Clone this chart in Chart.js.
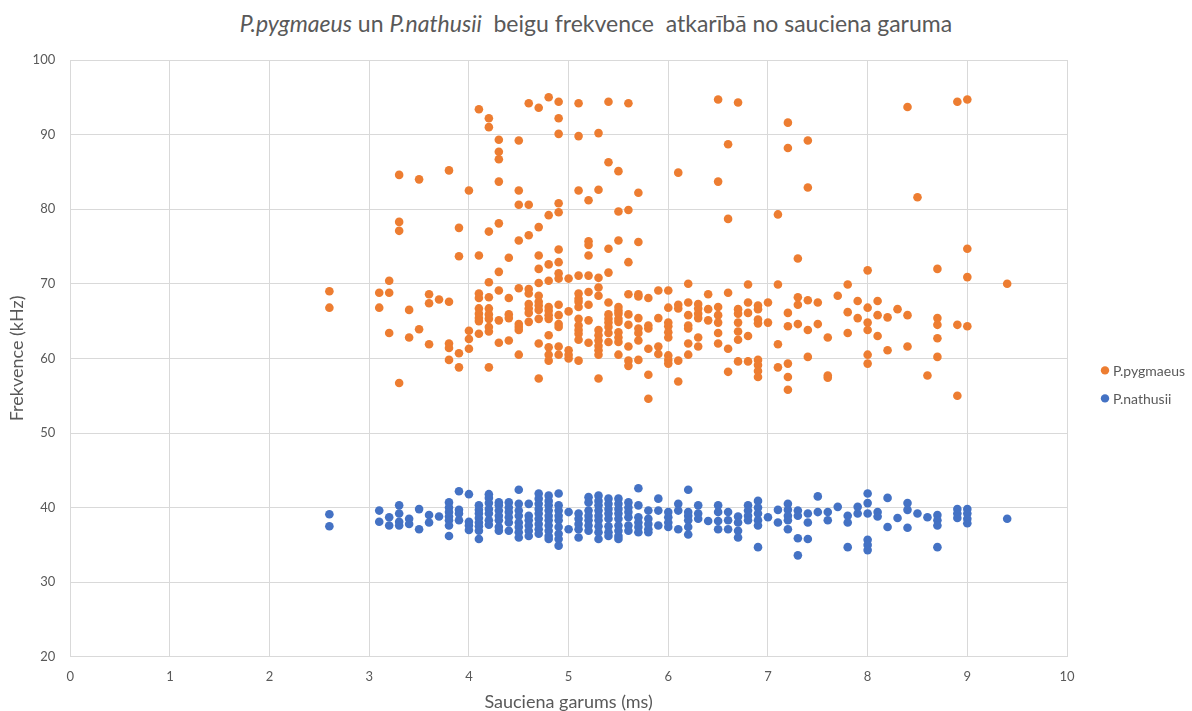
<!DOCTYPE html>
<html>
<head>
<meta charset="utf-8">
<script src="https://cdn.jsdelivr.net/npm/chart.js@4"></script>
<style>
  html, body { margin: 0; padding: 0; background: #fff; }
  #wrap { position: relative; width: 1192px; height: 711px; }
  #title {
    position: absolute; top: 9px; left: 0; width: 1192px;
    text-align: center; font-family: Lato, sans-serif; font-size: 23px;
    color: #595959; white-space: pre;
  }
  canvas { position: absolute; left: 0; top: 0; }
</style>
</head>
<body>
<div id="wrap">
  <div id="title"><i>P.pygmaeus</i> un <i>P.nathusii</i>  beigu frekvence  atkarībā no sauciena garuma</div>
  <canvas id="chart" width="1192" height="711"></canvas>
</div>
<script>
// sauciena garums (ms) -> beigu frekvences (kHz)
const pygmaeusCalls = [
    [2.6, [69.0, 66.8]],
    [3.1, [68.8, 66.8]],
    [3.2, [70.4, 68.8, 63.4]],
    [3.3, [84.6, 78.3, 77.1, 56.7]],
    [3.4, [66.5, 62.8]],
    [3.5, [84.0, 63.9]],
    [3.6, [68.6, 67.4, 61.9]],
    [3.7, [67.9]],
    [3.8, [85.2, 67.6, 62.0, 61.4, 59.8]],
    [3.9, [77.5, 73.7, 60.7, 58.8]],
    [4.0, [82.5, 63.7, 62.6, 61.3]],
    [4.1, [93.4, 73.8, 68.7, 68.1, 66.7, 66.0, 65.4, 65.0, 63.3]],
    [4.2, [92.2, 91.0, 77.0, 70.2, 68.2, 66.7, 65.9, 65.3, 64.2, 63.6, 58.8]],
    [4.3, [89.3, 87.7, 86.7, 83.7, 78.1, 71.6, 69.1, 65.1, 62.1]],
    [4.4, [73.5, 68.1, 65.9, 65.4, 62.4]],
    [4.5, [89.2, 82.5, 80.6, 75.8, 69.4, 64.6, 64.2, 63.8, 60.5]],
    [4.6, [94.2, 80.6, 76.5, 69.3, 68.7, 67.3, 66.7, 66.1, 64.9]],
    [4.7, [93.6, 77.6, 73.8, 72.0, 70.1, 68.4, 67.6, 67.1, 66.5, 65.3, 62.0, 57.3]],
    [4.8, [95.0, 79.2, 72.6, 70.4, 66.9, 66.4, 65.8, 65.3, 63.1, 61.5, 60.5, 59.7]],
    [4.9, [94.4, 92.2, 90.1, 80.8, 79.6, 74.6, 72.9, 71.4, 70.7, 67.2, 65.8, 64.6, 64.2, 61.6, 60.5]],
    [5.0, [70.7, 66.3, 61.1, 60.5, 60.0]],
    [5.1, [94.2, 89.8, 82.5, 71.1, 68.7, 68.0, 67.6, 66.9, 65.3, 64.4, 63.8, 63.3, 62.5, 59.7]],
    [5.2, [81.2, 75.7, 75.2, 73.8, 71.1, 68.9, 67.2, 65.1, 62.1]],
    [5.3, [90.2, 82.6, 70.8, 69.5, 68.4, 63.8, 63.1, 62.4, 61.7, 61.1, 60.5, 57.3]],
    [5.4, [94.4, 86.3, 74.7, 71.5, 67.5, 65.9, 65.3, 64.8, 64.2, 63.4, 62.2]],
    [5.5, [85.1, 79.7, 75.8, 66.9, 66.4, 66.0, 65.3, 64.9, 63.5, 62.8, 62.2, 60.5]],
    [5.6, [94.2, 79.9, 72.9, 68.6, 65.9, 64.5, 61.6, 59.7, 59.0]],
    [5.7, [82.2, 75.6, 68.6, 68.3, 65.4, 64.0, 63.4, 62.4, 59.8]],
    [5.8, [68.1, 64.4, 64.0, 61.3, 57.8, 54.6]],
    [5.9, [69.1, 65.4, 61.6, 60.6]],
    [6.0, [69.1, 66.8, 64.8, 64.3, 63.5, 62.8, 60.4, 59.8, 59.3]],
    [6.1, [84.9, 67.2, 66.7, 59.7, 56.9]],
    [6.2, [70.0, 67.5, 65.8, 64.4, 64.0, 62.0, 60.5]],
    [6.3, [67.3, 66.7, 66.0, 65.4, 62.8, 61.6]],
    [6.4, [68.6, 66.6, 65.1]],
    [6.5, [94.7, 83.7, 66.9, 65.8, 64.8, 63.4, 62.0]],
    [6.6, [88.7, 78.7, 68.8, 61.3, 58.2]],
    [6.7, [94.3, 66.6, 66.0, 64.8, 63.6, 62.5, 59.6]],
    [6.8, [69.9, 67.5, 66.1, 63.0, 59.6]],
    [6.9, [67.1, 66.6, 65.2, 64.7, 59.8, 59.1, 58.3, 57.5]],
    [7.0, [67.5, 64.8]],
    [7.1, [79.3, 69.9, 61.9, 58.8]],
    [7.2, [91.6, 88.2, 66.1, 64.3, 59.3, 57.5, 55.8]],
    [7.3, [73.4, 68.2, 67.2, 64.6]],
    [7.4, [89.2, 82.9, 67.8, 63.8, 60.2]],
    [7.5, [67.5, 64.6]],
    [7.6, [62.8, 57.7, 57.4]],
    [7.7, [68.4]],
    [7.8, [69.9, 66.2, 63.4]],
    [7.9, [67.7, 65.4]],
    [8.0, [71.8, 66.8, 64.8, 63.8, 60.5, 59.3]],
    [8.1, [67.7, 65.8, 63.0]],
    [8.2, [65.5, 61.1]],
    [8.3, [66.6]],
    [8.4, [93.7, 65.8, 61.6]],
    [8.5, [81.6]],
    [8.6, [57.7]],
    [8.7, [72.0, 65.4, 64.5, 62.7, 60.2]],
    [8.9, [94.4, 64.5, 55.0]],
    [9.0, [94.7, 74.7, 70.9, 64.3]],
    [9.4, [70.0]]
];

const nathusiiCalls = [
    [2.6, [39.1, 37.5]],
    [3.1, [39.6, 38.1]],
    [3.2, [38.7, 37.6]],
    [3.3, [40.3, 39.2, 38.1, 37.6]],
    [3.4, [38.5, 37.8]],
    [3.5, [39.8, 37.1]],
    [3.6, [39.0, 38.0]],
    [3.7, [38.8]],
    [3.8, [40.7, 40.0, 39.4, 38.8, 38.3, 37.6, 36.2]],
    [3.9, [42.2, 39.7, 39.2, 38.3]],
    [4.0, [41.8, 38.1, 37.6, 37.0]],
    [4.1, [40.3, 39.7, 39.2, 38.6, 38.0, 37.5, 36.9, 35.8]],
    [4.2, [41.8, 41.3, 40.6, 39.8, 39.2, 38.3, 37.7]],
    [4.3, [40.7, 40.3, 39.6, 38.9, 38.3, 37.4, 36.9]],
    [4.4, [40.7, 40.0, 39.4, 38.7, 38.0, 36.9]],
    [4.5, [42.4, 40.5, 39.6, 38.9, 38.0, 37.4, 36.7, 36.0]],
    [4.6, [40.5, 38.9, 38.3, 37.6, 36.9, 36.2]],
    [4.7, [41.9, 41.2, 40.5, 39.8, 39.2, 38.5, 37.8, 37.1, 36.5]],
    [4.8, [41.6, 40.9, 40.3, 39.6, 38.9, 38.3, 37.6, 36.9, 36.2, 35.8]],
    [4.9, [41.9, 40.3, 39.6, 38.9, 38.3, 37.4, 36.5, 35.8, 34.9]],
    [5.0, [39.4, 37.1]],
    [5.1, [39.2, 38.5, 37.8, 37.1, 36.0]],
    [5.2, [41.4, 40.7, 39.6, 38.9, 38.3, 37.6, 36.9]],
    [5.3, [41.6, 40.9, 40.3, 39.6, 38.9, 38.3, 37.5, 36.7, 35.8]],
    [5.4, [41.2, 40.5, 39.8, 39.2, 38.5, 37.5, 36.7, 36.2]],
    [5.5, [41.2, 40.5, 39.8, 39.2, 38.5, 37.6, 36.9, 36.2, 35.8]],
    [5.6, [40.7, 40.0, 39.4, 38.7, 37.6, 36.9]],
    [5.7, [42.6, 40.3, 38.7, 38.0, 37.4, 36.7]],
    [5.8, [39.6, 38.5, 37.8, 37.1, 36.7]],
    [5.9, [41.2, 39.6, 37.6]],
    [6.0, [39.4, 38.7, 38.0, 37.4]],
    [6.1, [40.5, 39.6, 37.1]],
    [6.2, [42.4, 39.4, 38.9, 38.3, 37.4, 36.4]],
    [6.3, [40.3, 39.2, 38.5]],
    [6.4, [38.2]],
    [6.5, [40.3, 39.4, 38.2, 37.1]],
    [6.6, [39.4, 38.3, 37.1]],
    [6.7, [38.8, 38.0, 36.9, 36.0]],
    [6.8, [40.3, 39.6, 38.9, 38.3]],
    [6.9, [40.9, 40.0, 39.2, 38.3, 37.6, 34.7]],
    [7.0, [38.7]],
    [7.1, [39.7, 38.0]],
    [7.2, [40.5, 39.7, 38.9, 38.3, 37.1]],
    [7.3, [39.6, 38.9, 35.9, 33.6]],
    [7.4, [39.2, 38.0, 35.8]],
    [7.5, [41.5, 39.4]],
    [7.6, [39.4, 38.3]],
    [7.7, [40.1]],
    [7.8, [38.9, 38.0, 34.7]],
    [7.9, [40.1, 39.2]],
    [8.0, [41.9, 40.6, 39.2, 35.7, 35.0, 34.3]],
    [8.1, [39.4, 38.8]],
    [8.2, [41.3, 37.4]],
    [8.3, [38.6]],
    [8.4, [40.6, 39.7, 37.3]],
    [8.5, [39.2]],
    [8.6, [38.7]],
    [8.7, [39.0, 38.3, 37.6, 34.7]],
    [8.9, [39.8, 39.2, 38.6]],
    [9.0, [39.8, 39.2, 38.5, 37.9]],
    [9.4, [38.5]]
];

const seriesNames = ['P.pygmaeus', 'P.nathusii'];
const seriesColors = ['#ED7D31', '#4472C4'];

// pārveido grupas par punktiem {x, y}
function toPoints(groups) {
    const pts = [];
    groups.forEach(([len, freqs]) => {
        freqs.forEach(f => pts.push({ x: len, y: f }));
    });
    return pts;
}

const gridColor = '#d9d9d9';
const textColor = '#595959';

// leģenda pa labi no diagrammas (kā Excel)
const sideLegend = {
    id: 'sideLegend',
    afterDraw(chart) {
        const ctx = chart.ctx;
        const area = chart.chartArea;
        const x = area.right + 38;
        const midY = (area.top + area.bottom) / 2 + 26;
        ctx.save();
        ctx.font = '14px Lato';
        ctx.textBaseline = 'middle';
        ctx.textAlign = 'left';
        chart.data.datasets.forEach((ds, i) => {
            const y = midY - 14 + i * 28;
            ctx.fillStyle = ds.backgroundColor;
            ctx.beginPath();
            ctx.arc(x, y, 4.2, 0, Math.PI * 2);
            ctx.fill();
            ctx.fillStyle = textColor;
            ctx.fillText(ds.label, x + 8, y + 1);
        });
        ctx.restore();
    }
};

new Chart(document.getElementById('chart').getContext('2d'), {
    type: 'scatter',
    data: {
        datasets: [
            {
                label: seriesNames[0],
                data: toPoints(pygmaeusCalls),
                backgroundColor: seriesColors[0],
                borderColor: seriesColors[0],
                pointRadius: 4.3,
                pointBorderWidth: 0
            },
            {
                label: seriesNames[1],
                data: toPoints(nathusiiCalls),
                backgroundColor: seriesColors[1],
                borderColor: seriesColors[1],
                pointRadius: 4.3,
                pointBorderWidth: 0
            }
        ]
    },
    options: {
        responsive: false,
        animation: false,
        layout: {
            padding: { top: 60, right: 125, bottom: 0, left: 6 }
        },
        scales: {
            x: {
                min: 0,
                max: 10,
                ticks: { stepSize: 1, color: textColor, font: { family: 'Lato', size: 13 }, padding: 12 },
                grid: { color: gridColor, drawTicks: false },
                border: { color: gridColor },
                title: {
                    display: true,
                    text: 'Sauciena garums (ms)',
                    color: textColor,
                    font: { family: 'Lato', size: 18 },
                    padding: { top: -5, bottom: -2 }
                }
            },
            y: {
                min: 20,
                max: 100,
                ticks: { stepSize: 10, color: textColor, font: { family: 'Lato', size: 13 }, padding: 15 },
                grid: { color: gridColor, drawTicks: false },
                border: { color: gridColor },
                title: {
                    display: true,
                    text: 'Frekvence (kHz)',
                    color: textColor,
                    font: { family: 'Lato', size: 18 },
                    padding: { top: 0, bottom: -10 }
                }
            }
        },
        plugins: {
            title: { display: false },
            tooltip: { enabled: false },
            legend: { display: false }
        }
    },
    plugins: [sideLegend]
});
</script>
</body>
</html>
